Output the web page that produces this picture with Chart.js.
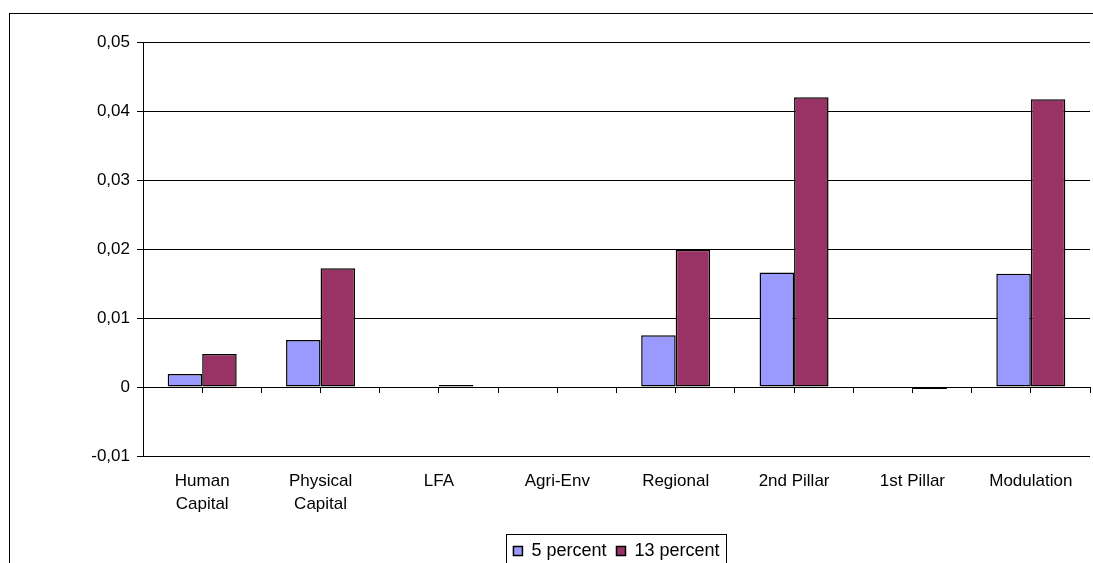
<!DOCTYPE html>
<html>
<head>
<meta charset="utf-8">
<script src="https://cdn.jsdelivr.net/npm/chart.js@4.4.1/dist/chart.umd.min.js"></script>
<style>
  html, body { margin: 0; padding: 0; background: #fff; overflow: hidden; }
  canvas { display: block; }
</style>
</head>
<body>
<canvas id="c" width="1093" height="570"></canvas>
<script>
// Effects of programme spending by measure
const categories = [
  ['Human', 'Capital'],
  ['Physical', 'Capital'],
  'LFA',
  'Agri-Env',
  'Regional',
  '2nd Pillar',
  '1st Pillar',
  'Modulation'
];
const seriesNames = ['5 percent', '13 percent'];
const fivePercent     = [0.0019, 0.0068, 0, 0, 0.0075, 0.0166, 0, 0.0164];
const thirteenPercent = [0.0048, 0.0172, 0.0003, 0, 0.0199, 0.0420, -0.0003, 0.0417];
const yMin = -0.01, yMax = 0.05, yStep = 0.01;
// unlabeled tick positions along the zero line: every half category
const zeroLineTicks = Array(categories.length * 2 + 1).fill('');

const FONT = 'Liberation Sans, Arial, sans-serif';
Chart.defaults.font.family = FONT;
Chart.defaults.font.size = 17;
Chart.defaults.color = '#000';

function commaNumber(v) {
  if (Math.abs(v) < 1e-9) return '0';
  return v.toFixed(2).replace('.', ',');
}

// Frame around the whole figure and a box around the legend
const framePlugin = {
  id: 'frame',
  beforeDraw(chart) {
    const ctx = chart.ctx;
    ctx.save();
    ctx.strokeStyle = '#000';
    ctx.lineWidth = 1;
    ctx.strokeRect(9.5, 13.5, 1200, 700);
    ctx.restore();
  },
  afterDraw(chart) {
    const boxes = chart.legend && chart.legend.legendHitBoxes;
    if (!boxes || !boxes.length) return;
    let l = Infinity, r = -Infinity, t = Infinity;
    boxes.forEach(b => {
      l = Math.min(l, b.left);
      r = Math.max(r, b.left + b.width);
      t = Math.min(t, b.top);
    });
    const ctx = chart.ctx;
    ctx.save();
    ctx.strokeStyle = '#000';
    ctx.lineWidth = 1;
    ctx.strokeRect(Math.round(l - 7) + 0.5, Math.round(t - 8) + 0.5, Math.round(r - l + 14), 60);
    ctx.restore();
  }
};

const barStyle = {
  borderColor: '#000',
  borderWidth: 1.5,
  borderSkipped: false,
  inflateAmount: 0,
  categoryPercentage: 0.583,
  barPercentage: 1.0
};

new Chart(document.getElementById('c'), {
  type: 'bar',
  data: {
    labels: categories,
    datasets: [
      Object.assign({ label: seriesNames[0], data: fivePercent, backgroundColor: '#9999FF' }, barStyle),
      Object.assign({ label: seriesNames[1], data: thirteenPercent, backgroundColor: '#993366' }, barStyle)
    ]
  },
  options: {
    responsive: false,
    animation: false,
    layout: { padding: { top: 42, right: 3, left: 0, bottom: 0 } },
    plugins: {
      tooltip: { enabled: false },
      legend: {
        position: 'bottom',
        fullSize: false,
        labels: {
          boxWidth: 9,
          boxHeight: 9,
          padding: 10,
          font: { size: 18 },
          color: '#000'
        }
      }
    },
    scales: {
      x: {
        type: 'category',
        position: 'bottom',
        grid: { display: false, drawTicks: false },
        border: { display: false },
        ticks: {
          padding: 14,
          maxRotation: 0,
          autoSkip: false,
          font: { size: 17, lineHeight: 1.35 }
        },
        afterFit(scale) { scale.height = 76; }
      },
      // tick marks along the zero line
      xZero: {
        type: 'category',
        labels: zeroLineTicks,
        offset: false,
        position: { y: 0 },
        ticks: { display: false, autoSkip: false },
        grid: { offset: false, drawOnChartArea: false, drawTicks: true, tickLength: 5, color: '#000', lineWidth: 1 },
        border: { display: true, color: '#000', width: 1 }
      },
      y: {
        min: yMin,
        max: yMax,
        ticks: {
          stepSize: yStep,
          padding: 7,
          callback: v => commaNumber(v),
          font: { size: 17 }
        },
        grid: { color: '#000', lineWidth: 1, tickLength: 6 },
        border: { display: true, color: '#000', width: 1 },
        afterFit(scale) { scale.width = 143; }
      }
    }
  },
  plugins: [framePlugin]
});
</script>
</body>
</html>
